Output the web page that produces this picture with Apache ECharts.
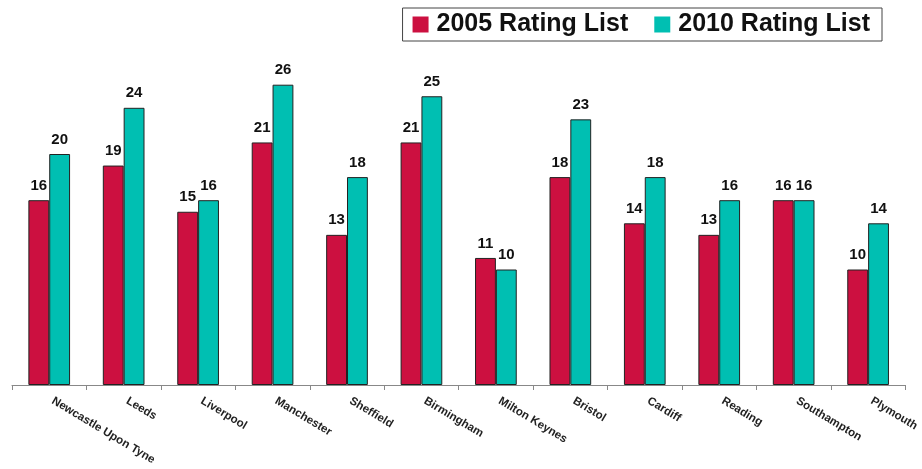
<!DOCTYPE html>
<html>
<head>
<meta charset="utf-8">
<script src="https://cdn.jsdelivr.net/npm/echarts@6/dist/echarts.min.js"></script>
<style>html,body{margin:0;padding:0;background:#fff}#c{width:922px;height:469px}</style>
</head>
<body>
<div id="c"></div>
<script>
const categories = ['Newcastle Upon Tyne','Leeds','Liverpool','Manchester','Sheffield','Birmingham','Milton Keynes','Bristol','Cardiff','Reading','Southampton','Plymouth'];
const list2005 = [16,19,15,21,13,21,11,18,14,13,16,10];
const list2010 = [20,24,16,26,18,25,10,23,18,16,16,14];
const seriesNames = ['2005 Rating List','2010 Rating List'];

const chart = echarts.init(document.getElementById('c'), null, {renderer:'canvas'});
const labelStyle = {show:true, position:'top', distance:7, color:'#111', fontFamily:'Liberation Sans, Arial, sans-serif', fontWeight:'bold', fontSize:15};
chart.setOption({
  animation:false,
  backgroundColor:'#fff',
  legend:{
    right:40, top:8,
    padding:[4,12,4,10],
    borderColor:'#444', borderWidth:1, backgroundColor:'#fff',
    itemWidth:16, itemHeight:16, itemGap:26,
    icon:'rect',
    itemStyle:{borderWidth:0},
    textStyle:{fontFamily:'Liberation Sans, Arial, sans-serif', fontWeight:'bold', fontSize:25, color:'#111', padding:[0,0,0,3]},
    data:seriesNames
  },
  grid:{left:12, right:14, top:38.5, bottom:84, containLabel:false},
  xAxis:{
    type:'category', data:categories,
    axisLine:{lineStyle:{color:'#888', width:1}},
    axisTick:{show:true, length:5, lineStyle:{color:'#888'}},
    axisLabel:{rotate:-31, margin:13, interval:0, color:'#222', fontFamily:'Liberation Sans, Arial, sans-serif', fontWeight:'bold', fontSize:11.5, padding:[0,0,0,4]}
  },
  yAxis:{type:'value', min:0, max:30, show:false, splitLine:{show:false}},
  series:[
    {name:seriesNames[0], type:'bar', data:list2005, barGap:'0%', barCategoryGap:'44%',
     itemStyle:{color:'#CC1040', borderColor:'#222', borderWidth:1}, label:labelStyle},
    {name:seriesNames[1], type:'bar', data:list2010, barGap:'0%', barCategoryGap:'44%',
     itemStyle:{color:'#00BFB2', borderColor:'#222', borderWidth:1}, label:labelStyle}
  ]
});
</script>
</body>
</html>
